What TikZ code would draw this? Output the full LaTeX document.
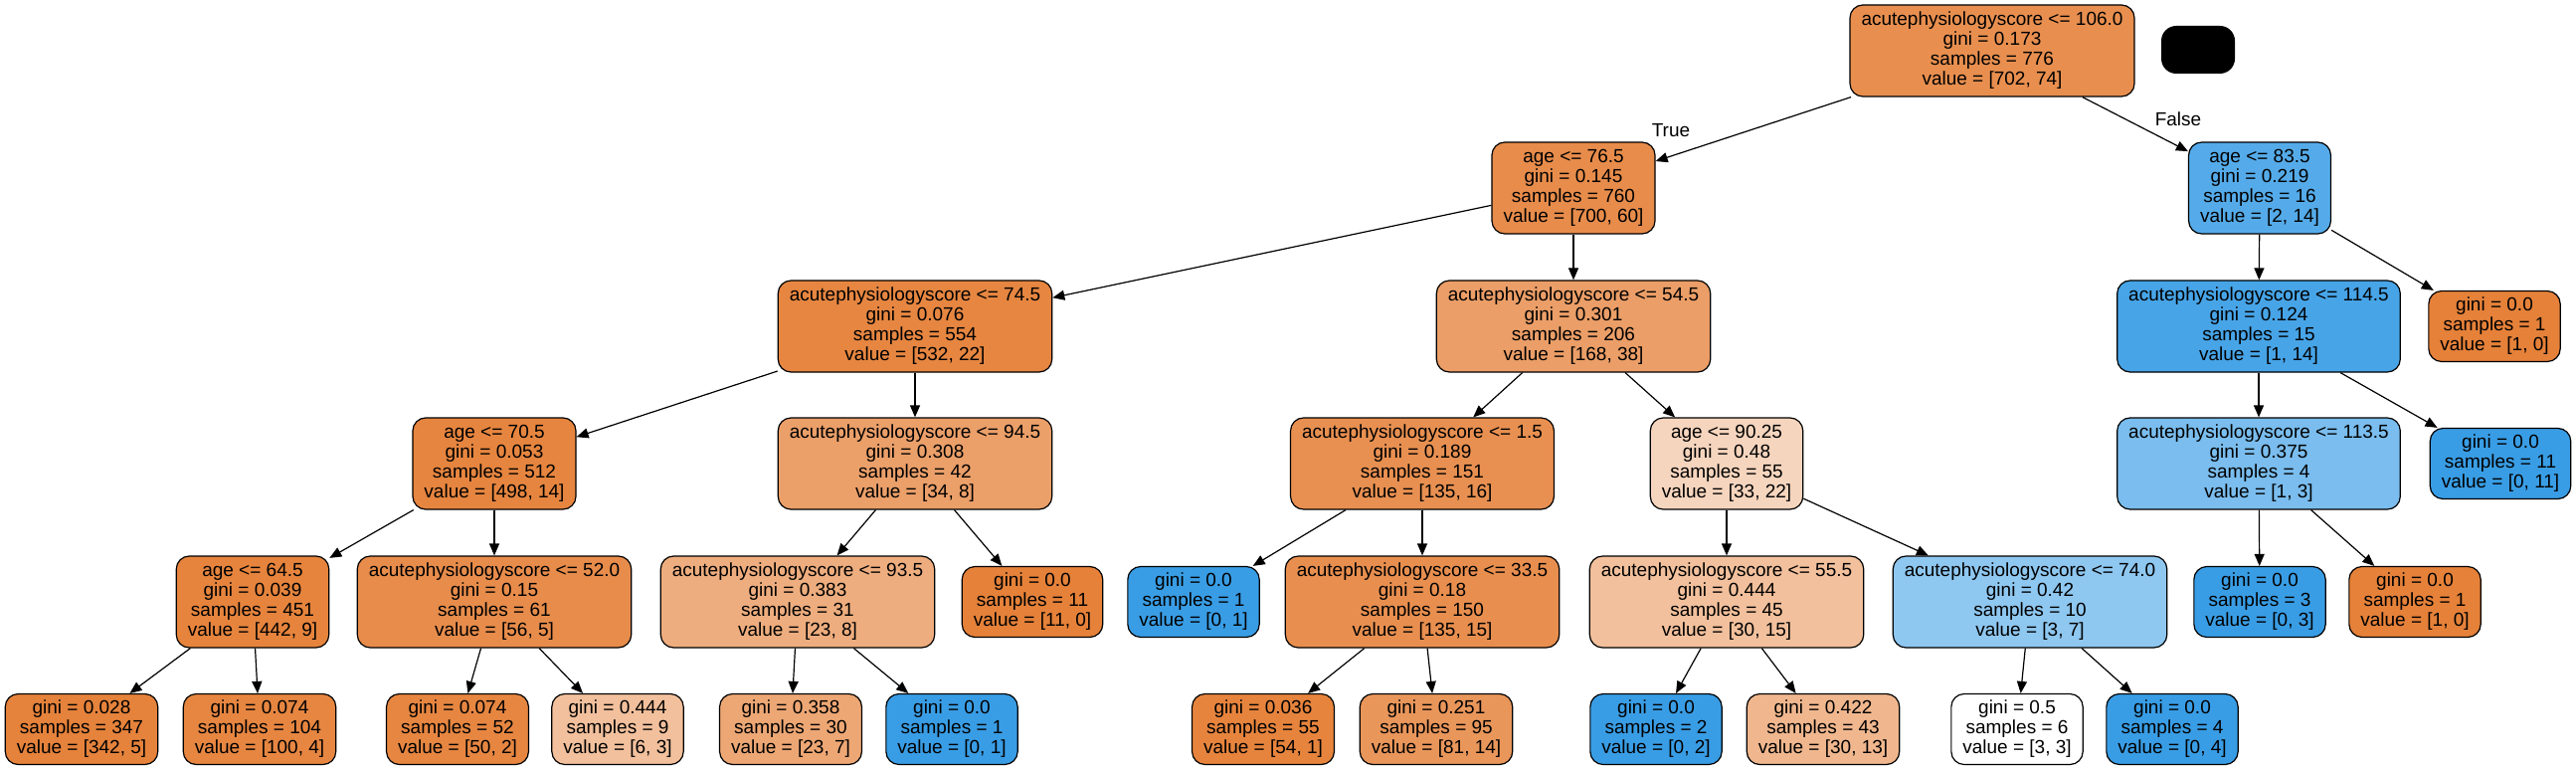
\documentclass[tikz,border=0pt]{standalone}
\usepackage{fontspec}
\setmainfont{Liberation Sans}
\usetikzlibrary{arrows.meta}
\definecolor{classzero}{HTML}{E58139}
\definecolor{classone}{HTML}{399DE5}
\tikzset
{
    treenode/.style = {draw=black, line width=1.2pt, rounded corners=13pt, align=center, inner xsep=11.5pt, inner ysep=0pt, font=\fontsize{19pt}{20pt}\selectfont},
    splitnode/.style = {treenode, minimum height=92pt},
    leafnode/.style = {treenode, minimum height=71pt},
    class0/.style = {fill=classzero!#1!white},
    class1/.style = {fill=classone!#1!white},
    branch/.style = {line width=1.2pt, -{Triangle[length=12pt,width=10pt]}},
    branchlabel/.style = {inner sep=0pt, font=\fontsize{19pt}{20pt}\selectfont}
}

\begin{document}
\begin{tikzpicture}[x=1pt,y=-1pt]
	\useasboundingbox (0,0) rectangle (2590,775);
	\node[splitnode,class0=89] (n0) at (2003,51) {acutephysiologyscore <= 106.0\\gini = 0.173\\samples = 776\\value = [702, 74]};
	\node[fill=black, rounded corners=15pt, minimum width=74pt, minimum height=48pt, inner sep=0pt] (blot) at (2210,50) {};
	\node[splitnode,class0=91] (n1) at (1582,189) {age <= 76.5\\gini = 0.145\\samples = 760\\value = [700, 60]};
	\node[splitnode,class1=86] (n28) at (2272,189) {age <= 83.5\\gini = 0.219\\samples = 16\\value = [2, 14]};
	\node[branchlabel] (truelabel) at (1680,131) {True};
	\node[branchlabel] (falselabel) at (2190,120) {False};

	\node[splitnode,class0=96] (n2) at (920,328) {acutephysiologyscore <= 74.5\\gini = 0.076\\samples = 554\\value = [532, 22]};
	\node[splitnode,class0=77] (n15) at (1582,328) {acutephysiologyscore <= 54.5\\gini = 0.301\\samples = 206\\value = [168, 38]};
	\node[splitnode,class1=93] (n29) at (2271,328) {acutephysiologyscore <= 114.5\\gini = 0.124\\samples = 15\\value = [1, 14]};
	\node[leafnode,class0=100] (n34) at (2508,328) {gini = 0.0\\samples = 1\\value = [1, 0]};

	\node[splitnode,class0=97] (n3) at (497,466) {age <= 70.5\\gini = 0.053\\samples = 512\\value = [498, 14]};
	\node[splitnode,class0=76] (n10) at (920,466) {acutephysiologyscore <= 94.5\\gini = 0.308\\samples = 42\\value = [34, 8]};
	\node[splitnode,class0=88] (n16) at (1430,466) {acutephysiologyscore <= 1.5\\gini = 0.189\\samples = 151\\value = [135, 16]};
	\node[splitnode,class0=33] (n21) at (1736,466) {age <= 90.25\\gini = 0.48\\samples = 55\\value = [33, 22]};
	\node[splitnode,class1=67] (n30) at (2271,466) {acutephysiologyscore <= 113.5\\gini = 0.375\\samples = 4\\value = [1, 3]};
	\node[leafnode,class1=100] (n33) at (2514,466) {gini = 0.0\\samples = 11\\value = [0, 11]};

	\node[splitnode,class0=98] (n4) at (254,605) {age <= 64.5\\gini = 0.039\\samples = 451\\value = [442, 9]};
	\node[splitnode,class0=91] (n7) at (497,605) {acutephysiologyscore <= 52.0\\gini = 0.15\\samples = 61\\value = [56, 5]};
	\node[splitnode,class0=65] (n11) at (802,605) {acutephysiologyscore <= 93.5\\gini = 0.383\\samples = 31\\value = [23, 8]};
	\node[leafnode,class0=100] (n14) at (1038,605) {gini = 0.0\\samples = 11\\value = [11, 0]};
	\node[leafnode,class1=100] (n17) at (1200,605) {gini = 0.0\\samples = 1\\value = [0, 1]};
	\node[splitnode,class0=89] (n18) at (1430,605) {acutephysiologyscore <= 33.5\\gini = 0.18\\samples = 150\\value = [135, 15]};
	\node[splitnode,class0=50] (n22) at (1736,605) {acutephysiologyscore <= 55.5\\gini = 0.444\\samples = 45\\value = [30, 15]};
	\node[splitnode,class1=57] (n25) at (2041,605) {acutephysiologyscore <= 74.0\\gini = 0.42\\samples = 10\\value = [3, 7]};
	\node[leafnode,class1=100] (n31) at (2272,605) {gini = 0.0\\samples = 3\\value = [0, 3]};
	\node[leafnode,class0=100] (n32) at (2428,605) {gini = 0.0\\samples = 1\\value = [1, 0]};

	\node[leafnode,class0=99] (n5) at (82,733) {gini = 0.028\\samples = 347\\value = [342, 5]};
	\node[leafnode,class0=96] (n6) at (261,733) {gini = 0.074\\samples = 104\\value = [100, 4]};
	\node[leafnode,class0=96] (n8) at (460,733) {gini = 0.074\\samples = 52\\value = [50, 2]};
	\node[leafnode,class0=50] (n9) at (621,733) {gini = 0.444\\samples = 9\\value = [6, 3]};
	\node[leafnode,class0=70] (n12) at (795,733) {gini = 0.358\\samples = 30\\value = [23, 7]};
	\node[leafnode,class1=100] (n13) at (957,733) {gini = 0.0\\samples = 1\\value = [0, 1]};
	\node[leafnode,class0=98] (n19) at (1270,733) {gini = 0.036\\samples = 55\\value = [54, 1]};
	\node[leafnode,class0=83] (n20) at (1444,733) {gini = 0.251\\samples = 95\\value = [81, 14]};
	\node[leafnode,class1=100] (n23) at (1665,733) {gini = 0.0\\samples = 2\\value = [0, 2]};
	\node[leafnode,class0=57] (n24) at (1833,733) {gini = 0.422\\samples = 43\\value = [30, 13]};
	\node[leafnode,fill=white] (n26) at (2028,733) {gini = 0.5\\samples = 6\\value = [3, 3]};
	\node[leafnode,class1=100] (n27) at (2184,733) {gini = 0.0\\samples = 4\\value = [0, 4]};

	\foreach \from/\to in {n0/n1, n0/n28, n1/n2, n1/n15, n2/n3, n2/n10, n3/n4, n3/n7, n4/n5, n4/n6, n7/n8, n7/n9, n10/n11, n10/n14, n11/n12, n11/n13, n15/n16, n15/n21, n16/n17, n16/n18, n18/n19, n18/n20, n21/n22, n21/n25, n22/n23, n22/n24, n25/n26, n25/n27, n28/n29, n28/n34, n29/n30, n29/n33, n30/n31, n30/n32}
		\draw[branch] (\from) -- (\to);
\end{tikzpicture}
\end{document}
